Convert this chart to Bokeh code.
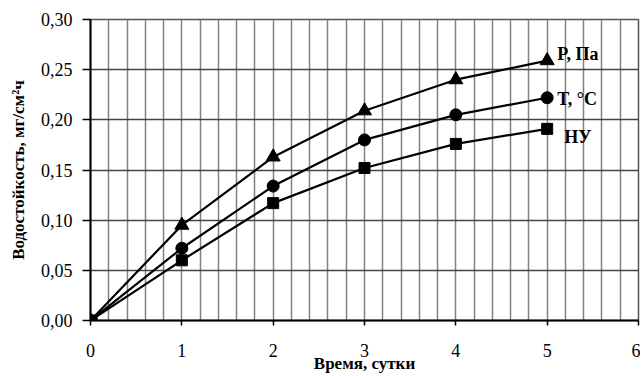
import numpy as np
from bokeh.plotting import figure
from bokeh.models import FixedTicker, CustomJSTickFormatter, Range1d, Label
from bokeh.embed import file_html
from bokeh.resources import INLINE

days = [0, 1, 2, 3, 4, 5]
p_pa = [0.0, 0.095, 0.163, 0.209, 0.240, 0.259]
t_c = [0.0, 0.072, 0.134, 0.180, 0.205, 0.222]
nu = [0.0, 0.060, 0.117, 0.152, 0.176, 0.191]
series_names = ["P, Па", "T, °C", "НУ"]
x_ticks = [0, 1, 2, 3, 4, 5, 6]
y_ticks = [0.0, 0.05, 0.10, 0.15, 0.20, 0.25, 0.30]

FONT = "Liberation Serif"

p = figure(width=640, height=375, output_backend="svg", toolbar_location=None,
           x_range=Range1d(0, 6), y_range=Range1d(0, 0.30),
           min_border_left=90, min_border_right=2, min_border_top=19, min_border_bottom=52)
p.background_fill_color = "white"
p.border_fill_color = "white"
p.outline_line_color = "#555555"
p.outline_line_width = 1.5

p.xaxis.ticker = FixedTicker(ticks=x_ticks)
p.yaxis.ticker = FixedTicker(ticks=y_ticks)
p.xgrid.ticker = FixedTicker(ticks=list(np.round(np.arange(0, 6.01, 0.2), 2)))
p.ygrid.ticker = FixedTicker(ticks=y_ticks)
p.xgrid.grid_line_color = "#808080"
p.xgrid.grid_line_width = 1.5
p.ygrid.grid_line_color = "#444444"
p.ygrid.grid_line_width = 1.5

p.yaxis.formatter = CustomJSTickFormatter(code="return tick.toFixed(2).replace('.', ',');")
p.xaxis.formatter = CustomJSTickFormatter(code="return tick.toFixed(0);")

for ax in (p.xaxis, p.yaxis):
    ax.axis_line_color = "black"
    ax.axis_line_width = 2
    ax.major_tick_line_color = "black"
    ax.major_tick_line_width = 1.5
    ax.major_tick_in = 0
    ax.minor_tick_line_color = None
    ax.major_label_text_font = FONT
    ax.major_label_text_font_size = "18px"
    ax.major_label_text_color = "black"
    ax.axis_label_text_font = FONT
    ax.axis_label_text_font_style = "bold"
    ax.axis_label_text_font_size = "17px"
    ax.axis_label_text_color = "black"

p.xaxis.major_tick_out = 5
p.yaxis.major_tick_out = 8
p.xaxis.major_label_standoff = 18
p.yaxis.major_label_standoff = 10
p.xaxis.axis_label = "Время, сутки"
p.yaxis.axis_label = "Водостойкость, мг/см²ч"
p.xaxis.axis_label_standoff = -6
p.yaxis.axis_label_standoff = 10

p.line(days, p_pa, line_color="black", line_width=2.2)
p.line(days, t_c, line_color="black", line_width=2.2)
p.line(days, nu, line_color="black", line_width=2.2)
p.scatter(days, p_pa, marker="triangle", size=14, color="black")
p.scatter(days, t_c, marker="circle", size=12, color="black")
p.scatter(days, nu, marker="square", size=11, color="black")

# origin marker (not clipped by the frame, as in the reference)
p.add_layout(Label(x=days[0], y=nu[0], text="■", text_font="DejaVu Sans",
                   text_font_size="19px", text_color="black",
                   text_align="center", text_baseline="middle"))

offsets = [(10, 7), (10, -1), (17, -8)]
for name, ys, (dx, dy) in zip(series_names, [p_pa, t_c, nu], offsets):
    p.add_layout(Label(x=days[-1], y=ys[-1], text=name, x_offset=dx, y_offset=dy,
                       text_font=FONT, text_font_style="bold", text_font_size="18px",
                       text_color="black", text_baseline="middle", text_align="left"))

open("out.html", "w").write(file_html(p, INLINE))
